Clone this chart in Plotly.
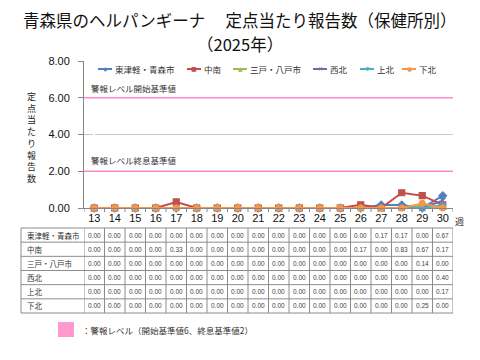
import plotly.graph_objects as go

# ---------------- data ----------------
weeks = ["13", "14", "15", "16", "17", "18", "19", "20", "21",
         "22", "23", "24", "25", "26", "27", "28", "29", "30"]
series_names = ["東津軽・青森市", "中南", "三戸・八戸市", "西北", "上北", "下北"]
higashitsugaru = [0.00, 0.00, 0.00, 0.00, 0.00, 0.00, 0.00, 0.00, 0.00,
                  0.00, 0.00, 0.00, 0.00, 0.00, 0.17, 0.17, 0.00, 0.67]
chunan = [0.00, 0.00, 0.00, 0.00, 0.33, 0.00, 0.00, 0.00, 0.00,
          0.00, 0.00, 0.00, 0.00, 0.17, 0.00, 0.83, 0.67, 0.17]
sannohe = [0.00, 0.00, 0.00, 0.00, 0.00, 0.00, 0.00, 0.00, 0.00,
           0.00, 0.00, 0.00, 0.00, 0.00, 0.00, 0.00, 0.14, 0.00]
seihoku = [0.00, 0.00, 0.00, 0.00, 0.00, 0.00, 0.00, 0.00, 0.00,
           0.00, 0.00, 0.00, 0.00, 0.00, 0.00, 0.00, 0.00, 0.40]
kamikita = [0.00, 0.00, 0.00, 0.00, 0.00, 0.00, 0.00, 0.00, 0.00,
            0.00, 0.00, 0.00, 0.00, 0.00, 0.00, 0.00, 0.00, 0.17]
shimokita = [0.00, 0.00, 0.00, 0.00, 0.00, 0.00, 0.00, 0.00, 0.00,
             0.00, 0.00, 0.00, 0.00, 0.00, 0.00, 0.00, 0.25, 0.00]
series_values = [higashitsugaru, chunan, sannohe, seihoku, kamikita, shimokita]
alert_start = 6
alert_end = 2
y_ticks = [0, 2, 4, 6, 8]

# ---------------- styles ----------------
colors = ["#4F81BD", "#C0504D", "#9BBB59", "#8064A2", "#4BACC6", "#F79646"]
symbols = ["diamond", "square", "triangle-up", "x-thin-open", "asterisk-open", "circle"]
glyphs = ["◆", "■", "▲", "✕", "✱", "●"]
FONT = "Noto Sans CJK JP"
PINK = "#FF88C8"

# page offset (default body margin of the html page)
OFF = 8
# plot area in window pixels
L, R, T, B = 84, 453, 61, 208
W, H = R - L, B - T


def px(x):
    return (x - L) / W


def py(y):
    return (B - y) / H


idx = list(range(len(weeks)))

fig = go.Figure()
for name, vals, col, sym in zip(series_names, series_values, colors, symbols):
    fig.add_trace(go.Scatter(
        x=idx, y=vals, name=name, mode="lines+markers",
        line=dict(color=col, width=2),
        marker=dict(symbol=sym, size=6, color=col,
                    line=dict(color=col, width=1.2)),
        showlegend=False, cliponaxis=False,
    ))

shapes = []
annotations = []

# title
annotations.append(dict(text="青森県のヘルパンギーナ\u3000 定点当たり報告数（保健所別）",
                        xref="paper", yref="paper", x=px(240), y=py(20),
                        xanchor="center", yanchor="middle", showarrow=False,
                        font=dict(size=16.5, color="#111111", family=FONT)))
annotations.append(dict(text="（2025年）",
                        xref="paper", yref="paper", x=px(240), y=py(44),
                        xanchor="center", yanchor="middle", showarrow=False,
                        font=dict(size=16.5, color="#111111", family=FONT)))

# alert lines
for lvl in (alert_start, alert_end):
    shapes.append(dict(type="line", xref="paper", x0=0, x1=1, yref="y",
                       y0=lvl, y1=lvl, line=dict(color=PINK, width=1.5)))
annotations.append(dict(text="警報レベル開始基準値", xref="paper", x=px(89),
                        xanchor="left", yref="paper", y=py(88), yanchor="middle",
                        showarrow=False, font=dict(size=8.5, color="#333333", family=FONT)))
annotations.append(dict(text="警報レベル終息基準値", xref="paper", x=px(89),
                        xanchor="left", yref="paper", y=py(160), yanchor="middle",
                        showarrow=False, font=dict(size=8.5, color="#333333", family=FONT)))

# custom legend
leg_x = [98, 187, 233, 313, 360, 402]
leg_y = 69
for name, col, g, x0 in zip(series_names, colors, glyphs, leg_x):
    shapes.append(dict(type="line", xref="paper", yref="paper",
                       x0=px(x0), x1=px(x0 + 14), y0=py(leg_y), y1=py(leg_y),
                       line=dict(color=col, width=2)))
    annotations.append(dict(text=g, xref="paper", yref="paper", x=px(x0 + 7),
                            y=py(leg_y), xanchor="center", yanchor="middle",
                            showarrow=False, font=dict(size=6, color=col, family="DejaVu Sans")))
    annotations.append(dict(text=name, xref="paper", yref="paper", x=px(x0 + 15),
                            y=py(leg_y), xanchor="left", yanchor="middle",
                            showarrow=False, font=dict(size=8.5, color="#333333", family=FONT)))

# y-axis title (vertical)
annotations.append(dict(text="<br>".join("定点当たり報告数"), xref="paper", yref="paper",
                        x=px(31), y=py(137), xanchor="center", yanchor="middle",
                        showarrow=False, font=dict(size=9, color="#222222", family=FONT)))
# week unit
annotations.append(dict(text="週", xref="paper", yref="paper", x=px(459), y=py(221),
                        xanchor="center", yanchor="middle", showarrow=False,
                        font=dict(size=9, color="#333333", family=FONT)))

# data table
tbl_top, tbl_bot, tbl_left = 228, 313, 21
n_rows = len(series_names)
row_h = (tbl_bot - tbl_top) / n_rows
grid_col = "#8C8C8C"
for i in range(n_rows + 1):
    yy = tbl_top + i * row_h
    shapes.append(dict(type="line", xref="paper", yref="paper", x0=px(tbl_left), x1=1,
                       y0=py(yy), y1=py(yy), line=dict(color=grid_col, width=1)))
shapes.append(dict(type="line", xref="paper", yref="paper", x0=px(tbl_left), x1=px(tbl_left),
                   y0=py(tbl_top), y1=py(tbl_bot), line=dict(color=grid_col, width=1)))
for j in range(len(weeks) + 1):
    shapes.append(dict(type="line", xref="x", yref="paper", x0=j - 0.5, x1=j - 0.5,
                       y0=py(tbl_top), y1=py(tbl_bot), line=dict(color=grid_col, width=1)))
for i, (name, vals) in enumerate(zip(series_names, series_values)):
    yc = tbl_top + (i + 0.5) * row_h
    annotations.append(dict(text=name, xref="paper", yref="paper", x=px(tbl_left + 4),
                            y=py(yc), xanchor="left", yanchor="middle", showarrow=False,
                            font=dict(size=7.5, color="#333333", family=FONT)))
    for j, v in zip(idx, vals):
        annotations.append(dict(text=f"{v:.2f}", xref="x", x=j, yref="paper", y=py(yc),
                                xanchor="center", yanchor="middle", showarrow=False,
                                font=dict(size=6.5, color="#444444", family="Liberation Sans")))

# tick marks at category boundaries
for j in range(len(weeks) + 1):
    shapes.append(dict(type="line", xref="x", yref="paper", x0=j - 0.5, x1=j - 0.5,
                       y0=0, y1=py(B + 4), line=dict(color="#868686", width=1)))

# bottom note with pink box
shapes.append(dict(type="rect", xref="paper", yref="paper", x0=px(58), x1=px(74),
                   y0=py(337), y1=py(322), fillcolor="#FF99CC", line=dict(width=0)))
annotations.append(dict(text="：警報レベル（開始基準値6、終息基準値2）", xref="paper", yref="paper",
                        x=px(80), y=py(330), xanchor="left", yanchor="middle", showarrow=False,
                        font=dict(size=8.5, color="#333333", family=FONT)))

fig.update_layout(
    width=480 - OFF, height=360 - OFF,
    margin=dict(l=L - OFF, r=480 - R, t=T - OFF, b=360 - B),
    paper_bgcolor="white", plot_bgcolor="white",
    font=dict(family=FONT, color="#222222"),
    shapes=shapes, annotations=annotations,
    showlegend=False,
)
fig.update_xaxes(range=[-0.5, len(weeks) - 0.5],
                 tickmode="array", tickvals=idx, ticktext=weeks, tickangle=0,
                 showline=True, linecolor="#868686", linewidth=1,
                 ticks="", showgrid=False,
                 tickfont=dict(size=11, color="#111111", family="Liberation Sans"))
fig.update_yaxes(range=[0, 8], tickvals=y_ticks, tickformat=".2f",
                 showline=True, linecolor="#868686", linewidth=1,
                 ticks="outside", ticklen=5, tickcolor="#868686",
                 ticklabelstandoff=6,
                 gridcolor="#C8C8C8", gridwidth=1, zeroline=False,
                 tickfont=dict(size=11, color="#111111", family="Liberation Sans"))

fig.write_html("out.html")
